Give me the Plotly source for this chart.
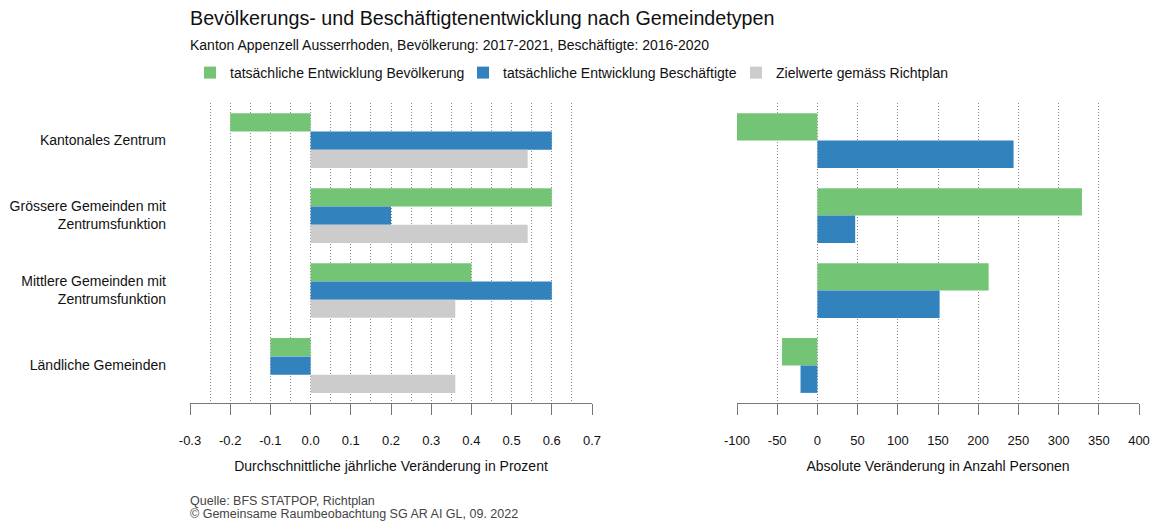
import plotly.graph_objects as go

categories = ["Kantonales Zentrum", "Grössere Gemeinden mit<br>Zentrumsfunktion",
              "Mittlere Gemeinden mit<br>Zentrumsfunktion", "Ländliche Gemeinden"]
series_names = ["tatsächliche Entwicklung Bevölkerung", "tatsächliche Entwicklung Beschäftigte",
                "Zielwerte gemäss Richtplan"]
pct_bev = [-0.2, 0.6, 0.4, -0.1]
pct_besch = [0.6, 0.2, 0.6, -0.1]
pct_ziel = [0.54, 0.54, 0.36, 0.36]
abs_bev = [-108, 329, 213, -44]
abs_besch = [244, 47, 152, -21]
left_ticks = [-0.3, -0.2, -0.1, 0.0, 0.1, 0.2, 0.3, 0.4, 0.5, 0.6, 0.7]
left_labels = ["-0.3", "-0.2", "-0.1", "0.0", "0.1", "0.2", "0.3", "0.4", "0.5", "0.6", "0.7"]
right_ticks = [-100, -50, 0, 50, 100, 150, 200, 250, 300, 350, 400]
right_labels = ["-100", "-50", "0", "50", "100", "150", "200", "250", "300", "350", "400"]
footer_lines = ["Quelle: BFS STATPOP, Richtplan",
                "© Gemeinsame Raumbeobachtung SG AR AI GL, 09. 2022"]

colors = ["#74c476", "#3182bd", "#cccccc"]
FONT = "Liberation Sans, Arial, sans-serif"

fig = go.Figure()
for name, vals, col in zip(series_names, [pct_bev, pct_besch, pct_ziel], colors):
    fig.add_trace(go.Bar(y=categories, x=vals, orientation="h", name=name,
                         marker=dict(color=col, line=dict(width=0)),
                         xaxis="x", yaxis="y", legendgroup=name))
for name, vals, col in zip(series_names[:2], [abs_bev, abs_besch], colors[:2]):
    fig.add_trace(go.Bar(y=categories, x=vals, orientation="h", name=name,
                         marker=dict(color=col, line=dict(width=0)),
                         xaxis="x2", yaxis="y2", showlegend=False, legendgroup=name))

# page body offsets the figure by 8px
OX, OY = 8, 8
FW, FH = 1160 - OX, 525 - OY
L, T = 190 - OX, 103 - OY
R = FW - (1139 - OX)
B = FH - (403 - OY)
W = FW - L - R
PH = FH - T - B
d1 = (592 - 190) / W
d2 = (737 - 190) / W

GRID = "#8a8a8a"
axis_common = dict(
    showline=True, linecolor="#777", linewidth=1,
    ticks="outside", ticklen=11, tickcolor="#777", tickwidth=1,
    showgrid=True, gridcolor=GRID, griddash="1px,2px", gridwidth=1,
    zeroline=False, tickfont=dict(size=13, color="#111", family=FONT),
    ticklabelstandoff=14, automargin=False,
)

def py(pix):
    """paper y for an absolute window pixel row"""
    return 1 - ((pix - OY) - T) / PH

fig.update_layout(
    width=FW, height=FH,
    margin=dict(l=L, r=R, t=T, b=B, autoexpand=False),
    paper_bgcolor="white", plot_bgcolor="white",
    barmode="group", bargap=0.27, bargroupgap=0,
    font=dict(family=FONT, color="#111"),
    xaxis=dict(domain=[0, d1], range=[-0.3, 0.7], tickvals=left_ticks,
               ticktext=left_labels,
               minor=dict(dtick=0.05, tick0=0, showgrid=True, gridcolor=GRID,
                          griddash="1px,2px", gridwidth=1, ticks=""),
               title=dict(text="Durchschnittliche jährliche Veränderung in Prozent",
                          font=dict(size=14, color="#111"), standoff=14),
               **axis_common),
    xaxis2=dict(domain=[d2, 1], range=[-100, 400], tickvals=right_ticks,
                ticktext=right_labels, anchor="y2",
                title=dict(text="Absolute Veränderung in Anzahl Personen",
                           font=dict(size=14, color="#111"), standoff=14),
                **axis_common),
    yaxis=dict(autorange="reversed", showgrid=False, showline=False, ticks="",
               tickfont=dict(size=14, color="#111"), ticklabelstandoff=23,
               domain=[0, 1], automargin=False),
    yaxis2=dict(autorange="reversed", showgrid=False, showline=False, ticks="",
                showticklabels=False, anchor="x2", domain=[0, 1], matches="y",
                automargin=False),
    legend=dict(orientation="h", x=0, xanchor="left", y=py(73),
                yanchor="middle", entrywidth=228, entrywidthmode="pixels",
                font=dict(size=14, color="#111"), bgcolor="rgba(0,0,0,0)",
                traceorder="normal"),
    title=dict(text="Bevölkerungs- und Beschäftigtenentwicklung nach Gemeindetypen",
               x=L / FW, xanchor="left", y=1 - (18 - OY) / FH, yanchor="middle",
               font=dict(size=19.7, color="#111")),
    annotations=[
        dict(text="Kanton Appenzell Ausserrhoden, Bevölkerung: 2017-2021, Beschäftigte: 2016-2020",
             xref="paper", yref="paper", x=0, xshift=-2, y=py(45),
             xanchor="left", yanchor="middle", showarrow=False,
             font=dict(size=14, color="#111")),
        dict(text=footer_lines[0],
             xref="paper", yref="paper", x=0, xshift=-2, y=py(501),
             xanchor="left", yanchor="middle", align="left", showarrow=False,
             font=dict(size=12.5, color="#444")),
        dict(text=footer_lines[1],
             xref="paper", yref="paper", x=0, xshift=-2, y=py(514),
             xanchor="left", yanchor="middle", align="left", showarrow=False,
             font=dict(size=12.5, color="#444")),
    ],
)

fig.write_html("out.html")
